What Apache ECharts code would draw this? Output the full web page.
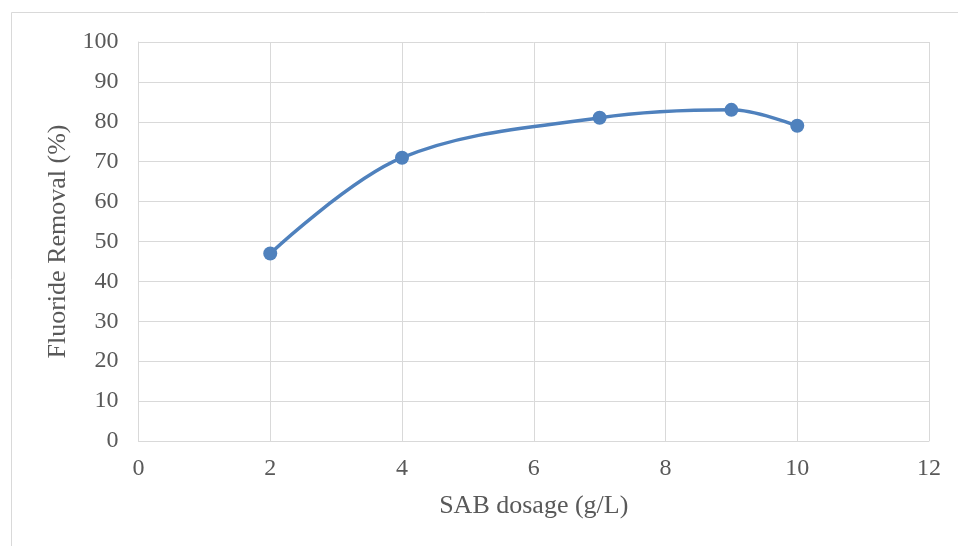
<!DOCTYPE html>
<html>
<head>
<meta charset="utf-8">
<script src="https://cdn.jsdelivr.net/npm/echarts@6/dist/echarts.min.js"></script>
<style>
  html, body { margin: 0; padding: 0; background: #fff; }
  #chart { width: 958px; height: 546px; }
</style>
</head>
<body>
<div id="chart"></div>
<script>
// SAB dosage (g/L) against fluoride removal (%)
const dosage = [2, 4, 7, 9, 10];
const removal = [47, 71, 81, 83, 79];
const xTicks = { min: 0, max: 12, interval: 2 };
const yTicks = { min: 0, max: 100, interval: 10 };

const seriesData = dosage.map((d, i) => [d, removal[i]]);
const serif = '"Liberation Serif", "Times New Roman", serif';
const gridColor = '#d9d9d9';
const textColor = '#595959';

const chart = echarts.init(document.getElementById('chart'), null, { renderer: 'canvas' });
chart.setOption({
  animation: false,
  backgroundColor: '#fff',
  graphic: [{
    type: 'rect',
    shape: { x: 11.5, y: 12.5, width: 960, height: 560 },
    style: { fill: 'none', stroke: '#d9d9d9', lineWidth: 1 },
    silent: true
  }],
  grid: { left: 138.5, right: 29, top: 42, bottom: 105, containLabel: false },
  xAxis: {
    type: 'value',
    min: xTicks.min, max: xTicks.max, interval: xTicks.interval,
    name: 'SAB dosage (g/L)',
    nameLocation: 'middle',
    nameGap: 52,
    nameTextStyle: { fontFamily: serif, fontSize: 26, color: textColor },
    axisLine: { show: true, lineStyle: { color: gridColor, width: 1 } },
    axisTick: { show: false },
    splitLine: { show: true, lineStyle: { color: gridColor, width: 1 } },
    axisLabel: { fontFamily: serif, fontSize: 24, color: textColor, margin: 16 }
  },
  yAxis: {
    type: 'value',
    min: yTicks.min, max: yTicks.max, interval: yTicks.interval,
    name: 'Fluoride Removal (%)',
    nameLocation: 'middle',
    nameGap: 67,
    nameRotate: 90,
    nameTextStyle: { fontFamily: serif, fontSize: 26, color: textColor },
    axisLine: { show: true, lineStyle: { color: gridColor, width: 1 } },
    axisTick: { show: false },
    splitLine: { show: true, lineStyle: { color: gridColor, width: 1 } },
    axisLabel: { fontFamily: serif, fontSize: 24, color: textColor, margin: 20 }
  },
  series: [{
    type: 'line',
    data: seriesData,
    smooth: 0.35,
    symbol: 'circle',
    symbolSize: 14,
    itemStyle: { color: '#4f81bd' },
    lineStyle: { color: '#4f81bd', width: 3.5 }
  }]
});
</script>
</body>
</html>
